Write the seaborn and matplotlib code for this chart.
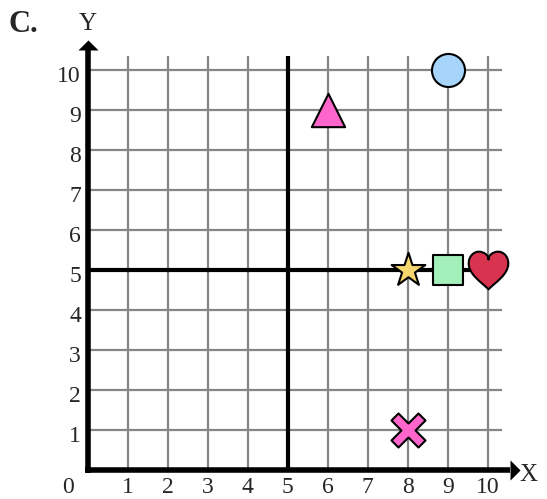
import numpy as np
import pandas as pd
import matplotlib
matplotlib.use("Agg")
import matplotlib.pyplot as plt
from matplotlib.path import Path
import seaborn as sns

# ---- data ----
grid_ticks = [1, 2, 3, 4, 5, 6, 7, 8, 9, 10]
tick_labels = ["1", "2", "3", "4", "5", "6", "7", "8", "9", "10"]
shape_names = ["circle", "triangle", "star", "square", "heart", "cross"]
shape_x = [9, 6, 8, 9, 10, 8]
shape_y = [10, 9, 5, 5, 5, 1]
shape_colors = ["#a6d4fa", "#ff66cc", "#f4d56e", "#a2efb9", "#d8344f", "#ff66cc"]
panel_label = "C."
x_name = "X"
y_name = "Y"

sns.set_theme(style="white")
plt.rcParams["font.family"] = ["Liberation Serif", "DejaVu Serif"]

fig = plt.figure(figsize=(5.47, 4.99), dpi=100)
ax = fig.add_axes([0, 0, 1, 1])
ax.set_xlim(-2.1925, 11.4825)
ax.set_ylim(-0.725, 11.75)
ax.axis("off")

# grid
ax.vlines(grid_ticks, 0, 10.35, color="#858585", lw=1.6, zorder=1)
ax.hlines(grid_ticks, 0, 10.35, color="#858585", lw=1.6, zorder=1)

# middle thick lines
ax.plot([5, 5], [0, 10.35], color="black", lw=3, solid_capstyle="butt", zorder=2)
ax.plot([0, 10.35], [5, 5], color="black", lw=3, solid_capstyle="butt", zorder=2)

# axes with arrow heads
ax.plot([0, 0], [-0.07, 10.5], color="black", lw=4, solid_capstyle="butt", zorder=3)
ax.plot([-0.07, 10.55], [0, 0], color="black", lw=4, solid_capstyle="butt", zorder=3)
up_head = [(-1, 0), (1, 0), (0, 1)]
right_head = [(0, -1), (0, 1), (1, 0)]
ax.scatter([0], [10.5], marker=up_head, s=14.5 ** 2, color="black", lw=0, zorder=3)
ax.scatter([10.55], [0], marker=right_head, s=14.5 ** 2, color="black", lw=0, zorder=3)

# heart marker shape (bezier outline)
hv = [(0, -0.95),
      (-0.35, -0.6), (-1, -0.2), (-1, 0.35),
      (-1, 0.75), (-0.72, 0.95), (-0.5, 0.95),
      (-0.22, 0.95), (0, 0.78), (0, 0.55),
      (0, 0.78), (0.22, 0.95), (0.5, 0.95),
      (0.72, 0.95), (1, 0.75), (1, 0.35),
      (1, -0.2), (0.35, -0.6), (0, -0.95),
      (0, -0.95)]
hc = [Path.MOVETO] + [Path.CURVE4] * 18 + [Path.CLOSEPOLY]
heart = Path(hv, hc)

# thick cross marker shape (rotated plus)
a, L = 0.26, 1.0
plus = np.array([(-a, L), (a, L), (a, a), (L, a), (L, -a), (a, -a), (a, -L),
                 (-a, -L), (-a, -a), (-L, -a), (-L, a), (-a, a), (-a, L)])
c45 = np.sqrt(0.5)
rot = np.array([[c45, -c45], [c45, c45]])
cross = Path(plus @ rot.T, closed=True)

marker_map = {
    "circle": ("o", 23.8),
    "triangle": ("^", 24.0),
    "star": ("*", 25.5),
    "square": ("s", 22.0),
    "heart": (heart, 28.5),
    "cross": (cross, 24.5),
}

df = pd.DataFrame({"name": shape_names, "x": shape_x, "y": shape_y, "color": shape_colors})
for _, row in df.iterrows():
    mk, ms = marker_map[row["name"]]
    sns.scatterplot(
        x=[row["x"]], y=[row["y"]], ax=ax, marker=mk, s=ms ** 2,
        color=row["color"], edgecolor="black", linewidth=1.5, zorder=5,
        legend=False, clip_on=False,
    )

# tick labels
fs = 17
for v, lab in zip(grid_ticks, tick_labels):
    ax.text(-0.17, v - 0.29, lab, ha="right", va="baseline", fontsize=fs)
    ax.text(v, -0.585, lab, ha="center", va="baseline", fontsize=fs)
ax.text(-0.485, -0.585, "0", ha="center", va="baseline", fontsize=fs)

ax.text(0.0, 11.0, y_name, ha="center", va="baseline", fontsize=18)
ax.text(11.03, -0.27, x_name, ha="center", va="baseline", fontsize=18)
fig.text(9 / 547, 1 - 31.7 / 499, panel_label, ha="left", va="baseline",
         fontsize=22, fontweight="bold")

fig.savefig("out.png", dpi=100)
